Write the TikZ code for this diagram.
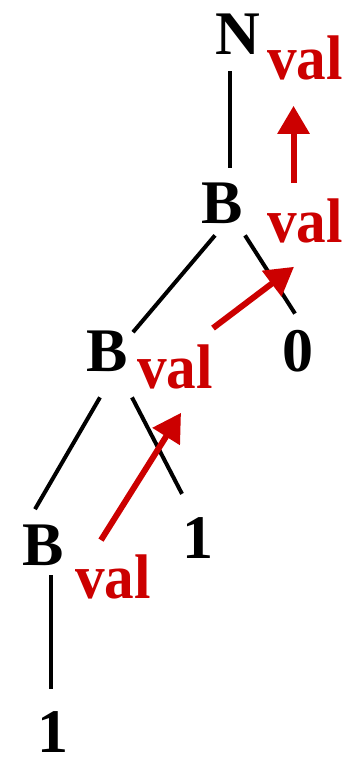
\documentclass[tikz,border=0pt]{standalone}
\usepackage{fontspec}
\setmainfont{Liberation Serif}
\newfontfamily\valfont{Liberation Serif}[FakeStretch=0.94]
\usepackage{tikz}
\usetikzlibrary{arrows.meta}
\definecolor{VALred}{HTML}{CC0000}

\begin{document}
\begin{tikzpicture}[
  x=1pt,y=-1pt,
  lbl/.style={anchor=base,inner sep=0pt,font=\bfseries\fontsize{62}{62}\selectfont},
  vlbl/.style={lbl,anchor=base west,text=VALred,font=\valfont\bfseries\fontsize{63}{63}\selectfont},
  edge/.style={black,line width=4pt},
  flow/.style={-{Triangle[length=28pt,width=31pt]},VALred,line width=6pt}
]
  \useasboundingbox (0,0) rectangle (343,760);
  % tree
  \node[lbl] (n)  at (237.5,55) {N};
  \node[lbl] (b1) at (222,223) {B};
  \node[lbl] (b2) at (107.5,371) {B};
  \node[lbl] (b3) at (43,565) {B};
  \node[lbl] (zero) at (297.5,371) {0};
  \node[lbl] (oneR) at (197.5,558) {1};
  \node[lbl] (oneB) at (53,752) {1};
  \draw[edge] ([shift={(-7.5,16)}]n.south) -- ([shift={(8,-14)}]b1.north);
  \draw[edge] ([shift={(-7,12)}]b1.south) -- ([shift={(25.5,2)}]b2.north);
  \draw[edge] ([shift={(23,12)}]b1.south) -- ([shift={(-2.5,-16)}]zero.north);
  \draw[edge] ([shift={(-7.5,26)}]b2.south) -- ([shift={(-8,-15)}]b3.north);
  \draw[edge] ([shift={(24.5,26)}]b2.south) -- ([shift={(-15.5,-23)}]oneR.north);
  \draw[edge] ([shift={(8,10)}]b3.south) -- ([shift={(-2,-22)}]oneB.north);
  % values passed upwards
  \node[vlbl] (v1) at (267,80) {val};
  \node[vlbl] (v2) at (267,242) {val};
  \node[vlbl] (v3) at (137,388) {val};
  \node[vlbl] (v4) at (75,598) {val};
  \draw[flow] ([shift={(-11.5,-15)}]v2.north) -- ([shift={(-11.5,25)}]v1.south);
  \draw[flow] ([shift={(76,-16)}]v3.north west) -- ([shift={(27,24)}]v2.south west);
  \draw[flow] ([shift={(26,-14)}]v4.north west) -- ([shift={(44,24)}]v3.south west);
\end{tikzpicture}
\end{document}
